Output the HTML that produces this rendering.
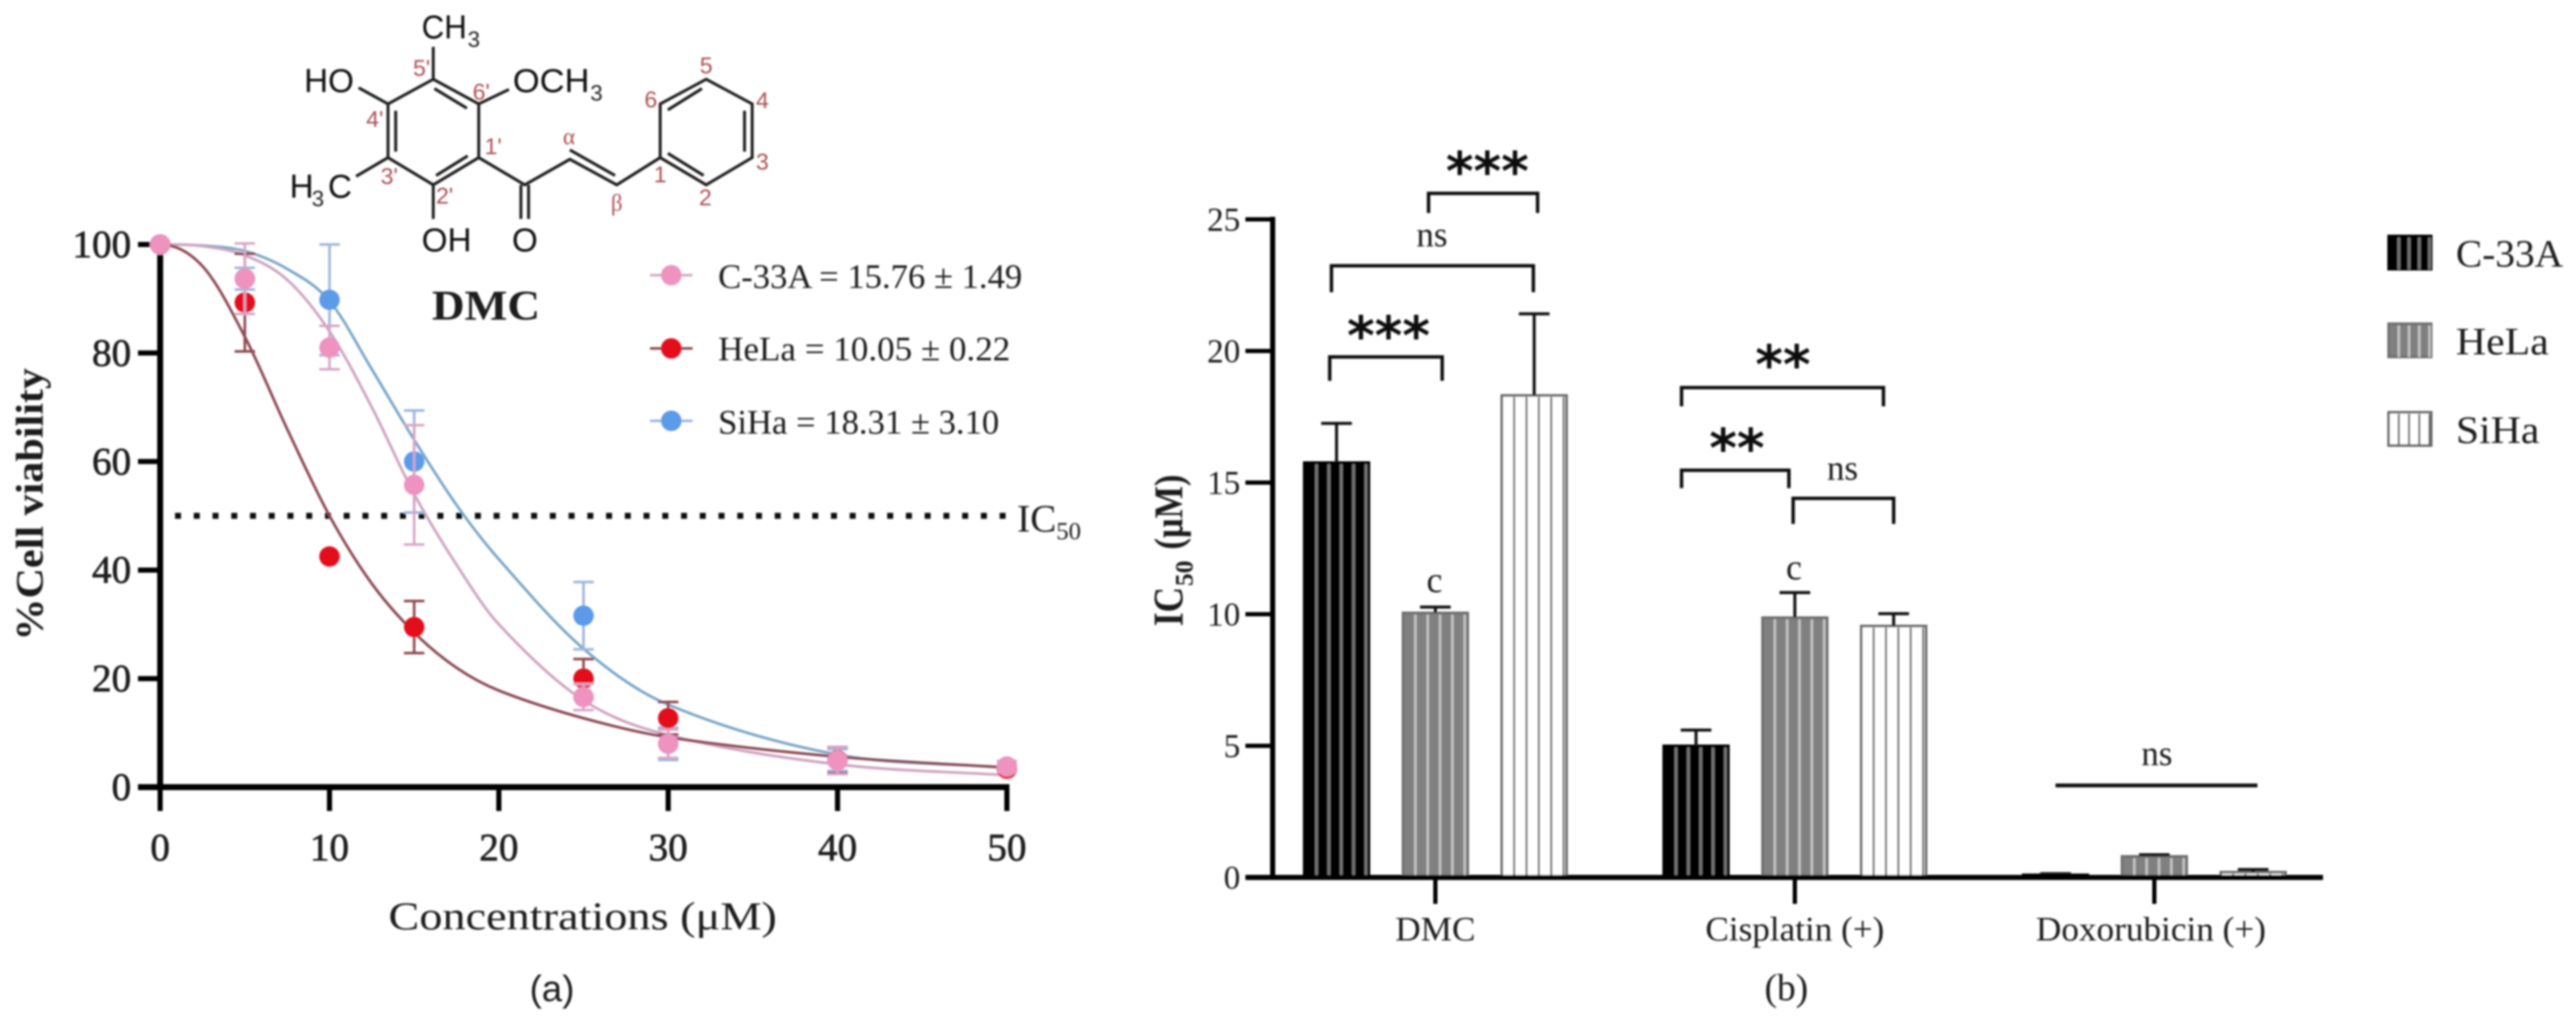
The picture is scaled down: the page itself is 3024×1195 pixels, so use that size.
<!DOCTYPE html>
<html lang="en">
<head>
<meta charset="utf-8">
<title>DMC cell viability and IC50 chart</title>
<style>
html,body{margin:0;padding:0;background:#fff;width:3024px;height:1195px;overflow:hidden}
svg{display:block}
text{font-family:"Liberation Serif",serif;fill:#1a1a1a}
.sans{font-family:"Liberation Sans",sans-serif}
.tick{font-size:46px;stroke:#1a1a1a;stroke-width:.7}
.tickb{font-size:39px}
.chem{font-family:"Liberation Sans",sans-serif;font-size:39px;fill:#111}
.sub{font-family:"Liberation Sans",sans-serif;font-size:26px;fill:#222}
.num{font-family:"Liberation Sans",sans-serif;font-size:27px;fill:#ac4f53;text-anchor:middle;dominant-baseline:central}
.bond{stroke:#1c1c1c;stroke-width:3.4;fill:none}
.leg{font-size:40px}
.star{font-family:"DejaVu Sans",sans-serif;font-weight:bold;font-size:62px;fill:#111;text-anchor:middle}
</style>
</head>
<body>
<svg id="chart" xmlns="http://www.w3.org/2000/svg" width="3024" height="1195" viewBox="0 0 3024 1195">
<defs>
<filter id="soft" filterUnits="userSpaceOnUse" x="0" y="0" width="3024" height="1195"><feGaussianBlur stdDeviation="1.1"/></filter>
</defs>
<rect width="3024" height="1195" fill="#fff"/>
<g id="root" filter="url(#soft)">

<g id="molecule">
  <g class="bond">
    <polygon points="508.6,93 562,122 562,185 508.6,217 455.5,185 455.5,122"/>
    <polyline points="562,185 616,217 669,187 724,217 775,185"/>
    <polygon points="775,185 775,122 829,93 883,122 883,185 829,217"/>
    <line x1="508.6" y1="93" x2="508.6" y2="55"/>
    <line x1="562" y1="122" x2="597.5" y2="105"/>
    <line x1="455.5" y1="122" x2="421" y2="103"/>
    <line x1="455.5" y1="185" x2="418" y2="207"/>
    <line x1="508.6" y1="217" x2="508.6" y2="257"/>
    <line x1="611.5" y1="217" x2="611.5" y2="257"/>
    <line x1="620.5" y1="217" x2="620.5" y2="257"/>
    <line x1="464.5" y1="130" x2="464.5" y2="178"/>
    <line x1="510" y1="104" x2="548" y2="127"/>
    <line x1="512" y1="206" x2="549" y2="183"/>
    <line x1="669" y1="176" x2="722" y2="206"/>
    <line x1="784" y1="129" x2="824" y2="104"/>
    <line x1="874" y1="130" x2="874" y2="178"/>
    <line x1="784" y1="180" x2="826" y2="206"/>
  </g>
  <text class="chem" x="495" y="45" textLength="53" lengthAdjust="spacingAndGlyphs">CH</text><text class="sub" x="549" y="55">3</text>
  <text class="chem" x="602" y="108" textLength="90" lengthAdjust="spacingAndGlyphs">OCH</text><text class="sub" x="693" y="118">3</text>
  <text class="chem" x="357" y="108">HO</text>
  <text class="chem" x="340" y="232">H</text><text class="sub" x="366" y="242">3</text><text class="chem" x="385" y="232">C</text>
  <text class="chem" x="495" y="295">OH</text>
  <text class="chem" x="601" y="295">O</text>
  <g>
    <text class="num" x="495" y="80">5'</text>
    <text class="num" x="565" y="108">6'</text>
    <text class="num" x="440" y="140">4'</text>
    <text class="num" x="579" y="172">1'</text>
    <text class="num" x="457" y="207">3'</text>
    <text class="num" x="522" y="230">2'</text>
    <text class="num" x="668" y="160" style="font-family:'Liberation Serif',serif">α</text>
    <text class="num" x="724" y="238" style="font-family:'Liberation Serif',serif">β</text>
    <text class="num" x="764" y="117">6</text>
    <text class="num" x="829" y="77">5</text>
    <text class="num" x="895" y="118">4</text>
    <text class="num" x="895" y="190">3</text>
    <text class="num" x="828" y="232">2</text>
    <text class="num" x="775" y="205">1</text>
  </g>
  <text x="507" y="375" font-size="50" font-weight="bold" textLength="127" lengthAdjust="spacingAndGlyphs" fill="#111">DMC</text>
</g>

<g id="panelA"></g>
<g id="panelB"></g>

<g>
  <text transform="translate(50,752) rotate(-90)" font-size="46" font-weight="bold" textLength="320" lengthAdjust="spacingAndGlyphs">%Cell viability</text>
  <text x="456" y="1091" font-size="47" textLength="456" lengthAdjust="spacingAndGlyphs">Concentrations (μM)</text>
  <text class="sans" x="648" y="1175" font-size="43" text-anchor="middle">(a)</text>
  <text x="1194" y="624" font-size="46">IC</text><text x="1240" y="633" font-size="29">50</text>
  <text class="leg" x="843" y="338" textLength="357" lengthAdjust="spacingAndGlyphs">C-33A = 15.76 ± 1.49</text>
  <text class="leg" x="843" y="423" textLength="343" lengthAdjust="spacingAndGlyphs">HeLa = 10.05 ± 0.22</text>
  <text class="leg" x="843" y="509" textLength="330" lengthAdjust="spacingAndGlyphs">SiHa = 18.31 ± 3.10</text>
</g>

<g>
  <text transform="translate(1388,735) rotate(-90)" font-size="50" font-weight="bold" textLength="46" lengthAdjust="spacingAndGlyphs">IC</text>
  <text transform="translate(1400,688) rotate(-90)" font-size="30" font-weight="bold">50</text>
  <text transform="translate(1388,645) rotate(-90)" font-size="48" font-weight="bold" textLength="88" lengthAdjust="spacingAndGlyphs">(μM)</text>
  <text x="2097" y="1174" font-size="44" text-anchor="middle">(b)</text>
  <text x="2883" y="313" font-size="46" textLength="126" lengthAdjust="spacingAndGlyphs">C-33A</text>
  <text x="2883" y="416" font-size="46" textLength="109" lengthAdjust="spacingAndGlyphs">HeLa</text>
  <text x="2883" y="520" font-size="46" textLength="98" lengthAdjust="spacingAndGlyphs">SiHa</text>
  <text x="1681" y="289" font-size="41" text-anchor="middle">ns</text>
  <text x="2163" y="563" font-size="41" text-anchor="middle">ns</text>
  <text x="2532" y="898" font-size="41" text-anchor="middle">ns</text>
  <text x="1684" y="695" font-size="42" text-anchor="middle">c</text>
  <text x="2106" y="680" font-size="42" text-anchor="middle">c</text>
  <text class="star" x="1746" y="223">***</text>
  <text class="star" x="1630" y="416">***</text>
  <text class="star" x="2093" y="450">**</text>
  <text class="star" x="2039" y="548">**</text>
</g>
</g>
</svg>
<script>
// Panel A data
const concentrations = [0, 5, 10, 15, 25, 30, 40, 50];
const viabilityHela = [100, 89.3, 42.5, 29.5, 20, 12.7, 5, 3.4];
const viabilityC33a = [100, 93.7, 81, 55.7, 16.6, 8, 4.9, 3.8];
const viabilitySiha = [100, 93.7, 89.8, 60, 31.6, 8, 5, 3.5];
const errorHela = [0, 9, 0, 4.8, 3.6, 3, 2.4, 0.5];
const errorC33a = [0, 6.5, 4, 11, 2.4, 2.6, 2.5, 1];
const errorSiha = [0, 2, 10.2, 9.4, 6.2, 3, 2, 0.5];
const curveConc = [0, 2.5, 5, 7.5, 10, 12.5, 15, 17.5, 20, 25, 30, 40, 50];
const curveHela = [100, 96, 83, 66, 50, 37.5, 28.5, 22, 17.8, 12.7, 9.2, 5.6, 3.6];
const curveC33a = [100, 99.7, 98, 93.5, 84, 70, 54, 41, 30, 16, 9.6, 4.2, 2.2];
const curveSiha = [100, 99.8, 98.8, 95.5, 89.6, 77, 64, 52, 42, 25.5, 15.2, 6, 3.6];
const viabilityTicksX = [0, 10, 20, 30, 40, 50];
const viabilityTicksY = [0, 20, 40, 60, 80, 100];
const ic50Line = [50];

// Panel B data
const drugGroups = ['DMC', 'Cisplatin (+)', 'Doxorubicin (+)'];
const cellLines = ['C-33A', 'HeLa', 'SiHa'];
const ic50C33a = [15.76, 5.0, 0.1];
const ic50Hela = [10.05, 9.87, 0.8];
const ic50Siha = [18.31, 9.55, 0.2];
const ic50ErrC33a = [1.49, 0.6, 0.04];
const ic50ErrHela = [0.22, 0.95, 0.06];
const ic50ErrSiha = [3.10, 0.47, 0.1];
const ic50Ticks = [0, 5, 10, 15, 20, 25];

const NS = 'http://www.w3.org/2000/svg';
function add(parent, tag, attrs, txt) {
  const e = document.createElementNS(NS, tag);
  for (const k in attrs) e.setAttribute(k, attrs[k]);
  if (txt !== undefined) e.textContent = txt;
  parent.appendChild(e);
  return e;
}

// Panel A axes
const xA = v => 188 + v * 19.88;
const yA = v => 924 - v * 6.37;
const A = document.getElementById('panelA');

// Cubic Hermite through the read curve values, tangents taken in x so uneven spacing stays smooth
function smoothPath(xs, ys) {
  const n = xs.length;
  const slope = i => {
    if (i === 0) return 0;
    if (i === n - 1) return (ys[i] - ys[i - 1]) / (xs[i] - xs[i - 1]);
    return (ys[i + 1] - ys[i - 1]) / (xs[i + 1] - xs[i - 1]);
  };
  let d = 'M' + xA(xs[0]) + ' ' + yA(ys[0]);
  for (let i = 0; i < n - 1; i++) {
    const h = xs[i + 1] - xs[i];
    const c1x = xs[i] + h / 3, c1y = ys[i] + slope(i) * h / 3;
    const c2x = xs[i + 1] - h / 3, c2y = ys[i + 1] - slope(i + 1) * h / 3;
    d += ' C' + xA(c1x) + ' ' + yA(c1y) + ' ' + xA(c2x) + ' ' + yA(c2y) + ' ' + xA(xs[i + 1]) + ' ' + yA(ys[i + 1]);
  }
  return d;
}

const yAxisA = add(A, 'line', {x1: xA(0), x2: xA(0), y1: yA(100) - 3, y2: yA(0), stroke: '#000', 'stroke-width': 7});


const xAxisA = add(A, 'line', {x1: 162, x2: xA(50) + 3, y1: yA(0), y2: yA(0), stroke: '#000', 'stroke-width': 7});



viabilityTicksY.forEach(v => {
  const t = add(A, 'line', {x1: 162, x2: xA(0), y1: yA(v), y2: yA(v), stroke: '#000', 'stroke-width': 6});
  
  
  const l = add(A, 'text', {class: 'tick', x: 154, y: yA(v) + 15, 'text-anchor': 'end'}, String(v));
  
  
});
viabilityTicksX.forEach(v => {
  const t = add(A, 'line', {x1: xA(v), x2: xA(v), y1: yA(0), y2: 952, stroke: '#000', 'stroke-width': 6});
  
  
  const l = add(A, 'text', {class: 'tick', x: xA(v), y: 1010, 'text-anchor': 'middle'}, String(v));
  
  
});

ic50Line.forEach(v => {
  const d = add(A, 'line', {x1: 205.5, x2: xA(50), y1: yA(v), y2: yA(v), stroke: '#111', 'stroke-width': 7, 'stroke-dasharray': '7 15'});
  
  
});

const seriesA = [
  {id: 'siha', vals: viabilitySiha, err: errorSiha, curve: curveSiha, color: '#5b9aea', line: '#7ba6c6', bar: '#9db6dc'},
  {id: 'c33a', vals: viabilityC33a, err: errorC33a, curve: curveC33a, color: '#ee92bf', line: '#cfa4c0', bar: '#d8a6c6'},
  {id: 'hela', vals: viabilityHela, err: errorHela, curve: curveHela, color: '#e4101c', line: '#8c4a55', bar: '#8e4650'}
];
seriesA.forEach(s => {
  const c = add(A, 'path', {d: smoothPath(curveConc, s.curve), fill: 'none', stroke: s.line, 'stroke-width': 3.2});
  
  
});
['siha', 'hela', 'c33a'].map(id => seriesA.find(s => s.id === id)).forEach(s => {
  concentrations.forEach((x, i) => {
    const v = s.vals[i], e = s.err[i];
    if (e > 0) {
      const bar = add(A, 'path', {
        d: 'M' + xA(x) + ' ' + yA(v + e) + 'V' + yA(v - e) +
           'M' + (xA(x) - 12) + ' ' + yA(v + e) + 'h24' +
           'M' + (xA(x) - 12) + ' ' + yA(v - e) + 'h24',
        fill: 'none', stroke: s.bar, 'stroke-width': 3
      });
      
      
    }
    const m = add(A, 'circle', {cx: xA(x), cy: yA(v), r: 12, fill: s.color});
    
    
  });
});

// Panel A legend markers (order as printed)
const legendRowsA = [['c33a', 323], ['hela', 409], ['siha', 494]];
legendRowsA.forEach(r => {
  const s = seriesA.find(o => o.id === r[0]);
  const ln = add(A, 'line', {x1: 763, x2: 813, y1: r[1], y2: r[1], stroke: s.bar, 'stroke-width': 3});
  
  
  const mk = add(A, 'circle', {cx: 788, cy: r[1], r: 12, fill: s.color});
  
  
});

// Panel B axes
const xB = g => 1685 + g * 422;
const yB = v => 1030 - v * 30.9;
const B = document.getElementById('panelB');
const barOffset = [-116, 0, 116];
const barW = 76;
const labelWidthPx = [94, 210, 270];
const labelShiftPx = [0, 0, -4];
const barStyles = [
  {fill: '#000', edge: '#000', stripe: '#777', sw: 3},
  {fill: '#808080', edge: '#6e6e6e', stripe: '#c4c4c4', sw: 3},
  {fill: '#fff', edge: '#666', stripe: '#666', sw: 2.4}
];
const seriesB = [ic50C33a, ic50Hela, ic50Siha];
const errorsB = [ic50ErrC33a, ic50ErrHela, ic50ErrSiha];

function hatchedBox(parent, x, y, w, h, st, step, name) {
  const g = add(parent, 'g', {});
  
  
  add(g, 'rect', {x: x, y: y, width: w, height: h, fill: st.fill, stroke: st.edge, 'stroke-width': 3});
  for (let lx = x + step; lx < x + w - 1; lx += step) {
    add(g, 'line', {x1: lx, x2: lx, y1: y + 2, y2: y + h, stroke: st.stripe, 'stroke-width': st.sw});
  }
  return g;
}

drugGroups.forEach((name, g) => {
  seriesB.forEach((vals, s) => {
    const cx = xB(g) + barOffset[s];
    const top = yB(vals[g]);
    hatchedBox(B, cx - barW / 2, top, barW, yB(0) - top, barStyles[s], 14.5, 'bar-' + cellLines[s].toLowerCase() + '-group-' + g);
    const upper = yB(vals[g] + errorsB[s][g]);
    const e = add(B, 'path', {
      d: 'M' + cx + ' ' + top + 'V' + upper + 'M' + (cx - 18) + ' ' + upper + 'h36',
      fill: 'none', stroke: '#111', 'stroke-width': 3.5
    });
    
    
  });
  const t = add(B, 'line', {x1: xB(g), x2: xB(g), y1: yB(0), y2: 1061, stroke: '#000', 'stroke-width': 5});
  
  
  const l = add(B, 'text', {x: xB(g) + labelShiftPx[g], y: 1104, 'font-size': 40, 'text-anchor': 'middle', textLength: labelWidthPx[g], lengthAdjust: 'spacingAndGlyphs'}, name);
  
  
});

const yAxisB = add(B, 'line', {x1: 1494, x2: 1494, y1: yB(25) - 3, y2: yB(0), stroke: '#000', 'stroke-width': 6});


const xAxisB = add(B, 'line', {x1: 1462, x2: 2727, y1: yB(0), y2: yB(0), stroke: '#000', 'stroke-width': 6});


ic50Ticks.forEach(v => {
  const t = add(B, 'line', {x1: 1462, x2: 1494, y1: yB(v), y2: yB(v), stroke: '#000', 'stroke-width': 5});
  
  
  const l = add(B, 'text', {class: 'tickb', x: 1456, y: yB(v) + 13, 'text-anchor': 'end'}, String(v));
  
  
});

// Significance brackets: x1, x2, top, leg end
const bracketNames = ['bracket-hela-siha', 'bracket-c33a-siha', 'bracket-c33a-hela', 'bracket-cis-c33a-siha', 'bracket-cis-c33a-hela', 'bracket-cis-hela-siha'];
const bracketGeom = [
  [1677, 1805, 227, 250], [1563, 1800, 312, 343], [1561, 1693, 419, 447],
  [1974, 2211, 455, 477], [1974, 2100, 552, 573], [2105, 2223, 585, 615]
];
bracketGeom.forEach((b, i) => {
  const p = add(B, 'path', {d: 'M' + b[0] + ' ' + b[3] + 'V' + b[2] + 'H' + b[1] + 'V' + b[3], fill: 'none', stroke: '#111', 'stroke-width': 4});
  
  
});
const doxLine = add(B, 'line', {x1: 2413, x2: 2650, y1: 922, y2: 922, stroke: '#111', 'stroke-width': 4.5});



// Panel B legend swatches
const swatchTops = [277, 380, 484];
swatchTops.forEach((y, s) => {
  hatchedBox(B, 2804, y, 50, 39, barStyles[s], 12, 'legend-swatch-' + cellLines[s].toLowerCase());
});
</script>
</body>
</html>
